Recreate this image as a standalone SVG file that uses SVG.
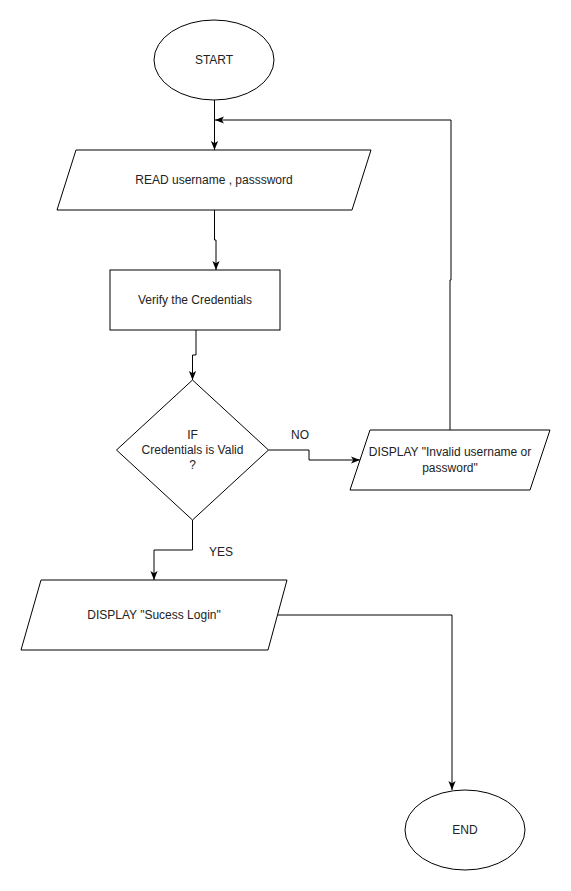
<svg xmlns="http://www.w3.org/2000/svg" width="571" height="891" viewBox="0 0 571 891">
<defs>
<style>
.shape{fill:#fff;stroke:#000;stroke-width:1}
.lbl{font-family:"Liberation Sans",Arial,sans-serif;font-size:12px;fill:#222;text-anchor:middle}
.edge{fill:none;stroke:#000;stroke-width:1}
</style>
<marker id="arr" viewBox="0 0 10 8" refX="10" refY="4" markerWidth="9" markerHeight="7.2" orient="auto" markerUnits="userSpaceOnUse">
<path d="M0,0 L10,4 L0,8 L2.5,4 z" fill="#000"/>
</marker>
</defs>
<rect width="571" height="891" fill="#fff"/>
<g id="connectors">
<path class="edge" d="M214.5,100 V150" marker-end="url(#arr)"/>
<path class="edge" d="M214.5,210 V240 H216 V270" marker-end="url(#arr)"/>
<path class="edge" d="M196,330 V355 H192.5 V380" marker-end="url(#arr)"/>
<path class="edge" d="M268.5,450 H309 V460 H360" marker-end="url(#arr)"/>
<path class="edge" d="M192.5,520 V550 H154 V580" marker-end="url(#arr)"/>
<path class="edge" d="M450,430 V280 H451 V120 H215" marker-end="url(#arr)"/>
<path class="edge" d="M277.5,615 H452 V790" marker-end="url(#arr)"/>
<text class="lbl" x="300" y="439">NO</text>
<text class="lbl" x="221" y="556">YES</text>
</g>
<g id="start">
<ellipse class="shape" cx="214" cy="60" rx="60" ry="40"/>
<text class="lbl" x="214" y="64">START</text>
</g>
<g id="read">
<polygon class="shape" points="76,150 371,150 352,210 57,210"/>
<text class="lbl" x="214" y="184">READ username , passsword</text>
</g>
<g id="verify">
<rect class="shape" x="110" y="270" width="170" height="60"/>
<text class="lbl" x="195" y="304">Verify the Credentials</text>
</g>
<g id="decision">
<polygon class="shape" points="192.5,380 268.5,450 192.5,520 116.5,450"/>
<text class="lbl" x="192.5" y="439">IF</text>
<text class="lbl" x="192.5" y="454">Credentials is Valid</text>
<text class="lbl" x="192.5" y="469">?</text>
</g>
<g id="invalid">
<polygon class="shape" points="370,430 550,430 530,490 350,490"/>
<text class="lbl" x="450" y="456">DISPLAY "Invalid username or</text>
<text class="lbl" x="450" y="472">password"</text>
</g>
<g id="success">
<polygon class="shape" points="41,580 287,580 268,650 21,650"/>
<text class="lbl" x="154" y="619">DISPLAY "Sucess Login"</text>
</g>
<g id="end">
<ellipse class="shape" cx="465" cy="830" rx="60" ry="40"/>
<text class="lbl" x="465" y="834">END</text>
</g>
</svg>
